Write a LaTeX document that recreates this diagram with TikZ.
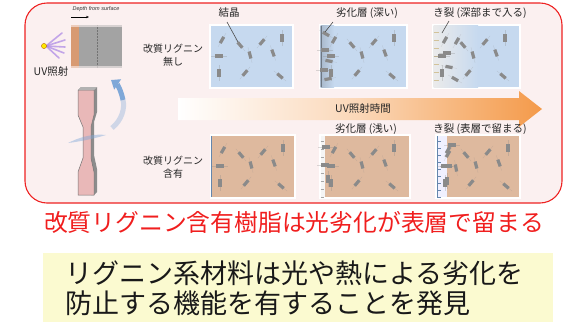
\documentclass[tikz,border=0pt]{standalone}
\usepackage{fontspec}
\setmainfont{Noto Sans CJK JP}
\newfontfamily\latinsans{Liberation Sans}
\usetikzlibrary{arrows.meta}

\definecolor{framered}{HTML}{EE2222}
\definecolor{framebg}{HTML}{FBF0F0}
\definecolor{textred}{HTML}{F01E1E}
\definecolor{notebg}{HTML}{FBFAD0}
\definecolor{resinblue}{HTML}{C6D9EF}
\definecolor{resintan}{HTML}{DEB99E}
\definecolor{xtalgray}{HTML}{8A8A8A}
\definecolor{uvorange}{HTML}{F49A4A}
\definecolor{skinorange}{HTML}{D89A72}
\definecolor{slabgray}{HTML}{A3A3A3}
\definecolor{specpink}{HTML}{E9B8B8}
\definecolor{turnblue}{HTML}{7FA8D8}
\definecolor{raypurple}{HTML}{B08CE6}
\definecolor{cracktan}{HTML}{D2C299}

\tikzset{
  lbl/.style={font=\fontsize{10.5}{12}\selectfont, inner sep=0pt, text=black!85},
  sidelbl/.style={font=\fontsize{10}{12.5}\selectfont, align=center, inner sep=0pt, text=black!85},
  pointer/.style={draw=black!70, line width=0.6pt},
  fibre/.style={draw=xtalgray, line width=0.25pt, opacity=0.3},
  panelbox/.style={draw=white, line width=1.2pt},
  xtal/.pic={
    \draw[fibre] (0,-8) -- (0,8);
    \fill[xtalgray] (-1.6,-3.6) rectangle (1.6,3.6);
  },
  crack/.style={line width=0.45pt},
}

\begin{document}
\begin{tikzpicture}[x=1pt,y=-1pt]
\useasboundingbox (0,0) rectangle (587,325);

% outer frame
\draw[framered, fill=framebg, line width=1.1pt, rounded corners=22pt] (25,3) rectangle (562,203);

% ---------- UV lamp and slab cross-section ----------
\foreach \ex/\ey in {62/33,65/40,65/47,64/53,59/58}
  \draw[raypurple, line width=1.6pt, line cap=round, opacity=0.75] (46,46) -- (\ex,\ey);
\fill[yellow!90!orange, draw=orange!70!black, line width=0.3pt] (44,46) circle (2.6);
\node[lbl] (uvlabel) at (51,72) {UV照射};

\node[font=\latinsans\itshape\fontsize{5.5}{6}\selectfont, inner sep=0pt, text=black!80] (depth) at (96,9) {Depth from surface};
\coordinate (dA) at (71,17);
\coordinate (dB) at (89,17);
\draw[-{Stealth[length=3pt,width=2.4pt]}, line width=0.5pt] (dA) -- (dB);

\fill[slabgray] (79,25) rectangle (122,68);
\fill[skinorange] (71,25) rectangle (79,68);
\draw[black!55, line width=0.35pt, dash pattern=on 0.8pt off 0.7pt] (97,25) -- (97,68);
\fill[framebg, opacity=0.6] (71,25) rectangle (122,27);
\fill[framebg, opacity=0.6] (71,66) rectangle (122,68);

% ---------- tensile specimen ----------
\fill[black!45] (81,87) -- (97,87) -- (97,112) -- (94,122) -- (94,155) -- (97,169) -- (97,192) -- (94,195) -- (91,195) -- (91,158) -- (91,127) -- (94,115) -- (94,90) -- (78,90) -- cycle;
\draw[black!55, fill=specpink, line width=0.5pt] (78,90) -- (94,90) -- (94,115) -- (91,127) -- (91,158) -- (94,172) -- (94,195) -- (78,195) -- (78,172) -- (83,158) -- (83,127) -- (78,115) -- cycle;
\fill[black!30] (78,90) -- (81,87) -- (97,87) -- (94,90) -- cycle;

% turning arrow and swirl
\fill[turnblue, opacity=0.45] (68,143) .. controls (84,135) and (96,134) .. (106,135) .. controls (96,138) and (84,141) .. (68,143) -- cycle;
\draw[turnblue, line width=5pt, opacity=0.35] (112,128) .. controls (122,120) and (125,108) .. (123,100);
\draw[turnblue, line width=5pt, -{Triangle[length=8pt,width=12pt]}] (123,100) .. controls (121,90) and (117,84) .. (111,80);

% ---------- row labels ----------
\node[sidelbl] (noLig) at (173,55) {改質リグニン\\無し};
\node[sidelbl] (withLig) at (173,167) {改質リグニン\\含有};

% ---------- time arrow ----------
\shade[left color=white, right color=uvorange, middle color=uvorange!40] (178,98) -- (519,98) -- (519,91) -- (542,109) -- (519,127) -- (519,120) -- (178,120) -- cycle;
\node[lbl] (timeLabel) at (363,109) {UV照射時間};

% ---------- upper row: unmodified resin (blue) ----------
% panel 1
\fill[resinblue, panelbox] (210,25) rectangle (293,88);
% panel 2 with degraded skin
\fill[resinblue, panelbox] (320,25) rectangle (407,88);
\shade[left color=black!15!resinblue, right color=resinblue] (320.6,25.6) rectangle (334,87.4);
\draw[black!45!resinblue, line width=0.8pt] (321,26) -- (321,87);
% panel 3 with deep cracks
\fill[resinblue, panelbox] (433,25) rectangle (520,88);
\shade[left color=black!8!white, right color=resinblue] (433.6,25.6) rectangle (478,87.4);
\foreach \yy in {32,40,48,56,64,72,80}
  \draw[crack, draw=cracktan] (433.6,\yy) -- ++(5,0);

% ---------- lower row: modified-lignin resin (tan) ----------
\fill[resintan, panelbox] (211,135) rectangle (295,198);
\draw[turnblue!80!black, line width=0.6pt] (211.6,136) -- (211.6,197);
\fill[resintan, panelbox] (320,135) rectangle (410,198);
\fill[black!4!white] (320.6,135.6) rectangle (325,197.4);
\foreach \yy in {141,149,...,197}
  \draw[crack, draw=black!35] (320.6,\yy) -- ++(3,0);
\fill[resintan, panelbox] (436,135) rectangle (520,198);
\fill[blue!6!white] (436.6,135.6) rectangle (447,197.4);
\draw[turnblue!80!black, line width=0.6pt] (437,136) -- (437,197);
\foreach \yy in {141,148,...,197}
  \draw[crack, draw=turnblue!80!black] (437,\yy) -- ++(4,0);

% ---------- crystals ----------
\foreach \ox/\oy in {210/25, 322/25, 433/25, 211/135, 322/135, 436/135}{
  \foreach \dx/\dy/\r in {10/15/-30, 28/20/40, 50/17/-40, 70/13/0, 7/31/90, 38/30/15, 61/28/20, 7/48/0, 33/48/-40, 68/51/50}
    \pic[rotate=\r] at (\ox+\dx+2,\oy+\dy) {xtal};
}
% crystals crowding the degraded skins
\foreach \dx/\dy/\r in {6/9/60, 5/25/90, 9/36/80, 4/45/90, 8/54/100}
  \pic[rotate=\r] at (320+\dx,25+\dy) {xtal};
\foreach \dx/\dy/\r in {14/28/90, 16/42/80, 24/16/-30, 22/54/60}
  \pic[rotate=\r] at (433+\dx,25+\dy) {xtal};
\foreach \dx/\dy/\r in {6/12/90, 5/30/90, 8/44/0}
  \pic[rotate=\r] at (320+\dx,135+\dy) {xtal};
\foreach \dx/\dy/\r in {16/10/90, 12/19/-30, 12/31/90, 20/33/10, 11/46/0}
  \pic[rotate=\r] at (436+\dx,135+\dy) {xtal};

% ---------- panel captions ----------
\node[lbl] (xtalLbl) at (229,13) {結晶};
\node[lbl] (deepLbl) at (367,13) {劣化層 (深い)};
\node[lbl] (crackDeepLbl) at (480,13) {き裂 (深部まで入る)};
\node[lbl] (shallowLbl) at (366,129) {劣化層 (浅い)};
\node[lbl] (crackSurfLbl) at (480,129) {き裂 (表層で留まる)};

\coordinate (xtalPt) at (238,42);
\coordinate (xtalTop) at (227,22);
\coordinate (skinTop) at (333,22);
\coordinate (skinPt) at (325,32);
\coordinate (crackTop) at (449,21);
\coordinate (crackPt) at (442,33);
\draw[pointer] (xtalTop) -- (xtalPt);
\draw[pointer] (skinTop) -- (skinPt);
\draw[pointer] (crackTop) -- (crackPt);

% ---------- conclusions ----------
\node[font=\fontsize{23.8}{26}\selectfont, text=textred, inner sep=0pt] (finding) at (294,222) {改質リグニン含有樹脂は光劣化が表層で留まる};

\fill[notebg] (43,253) rectangle (553,322);
\node[font=\fontsize{27}{30}\selectfont, align=left, anchor=west, inner sep=0pt, text=black!90] (summary) at (65,288)
  {リグニン系材料は光や熱による劣化を\\防止する機能を有することを発見};
\end{tikzpicture}
\end{document}
